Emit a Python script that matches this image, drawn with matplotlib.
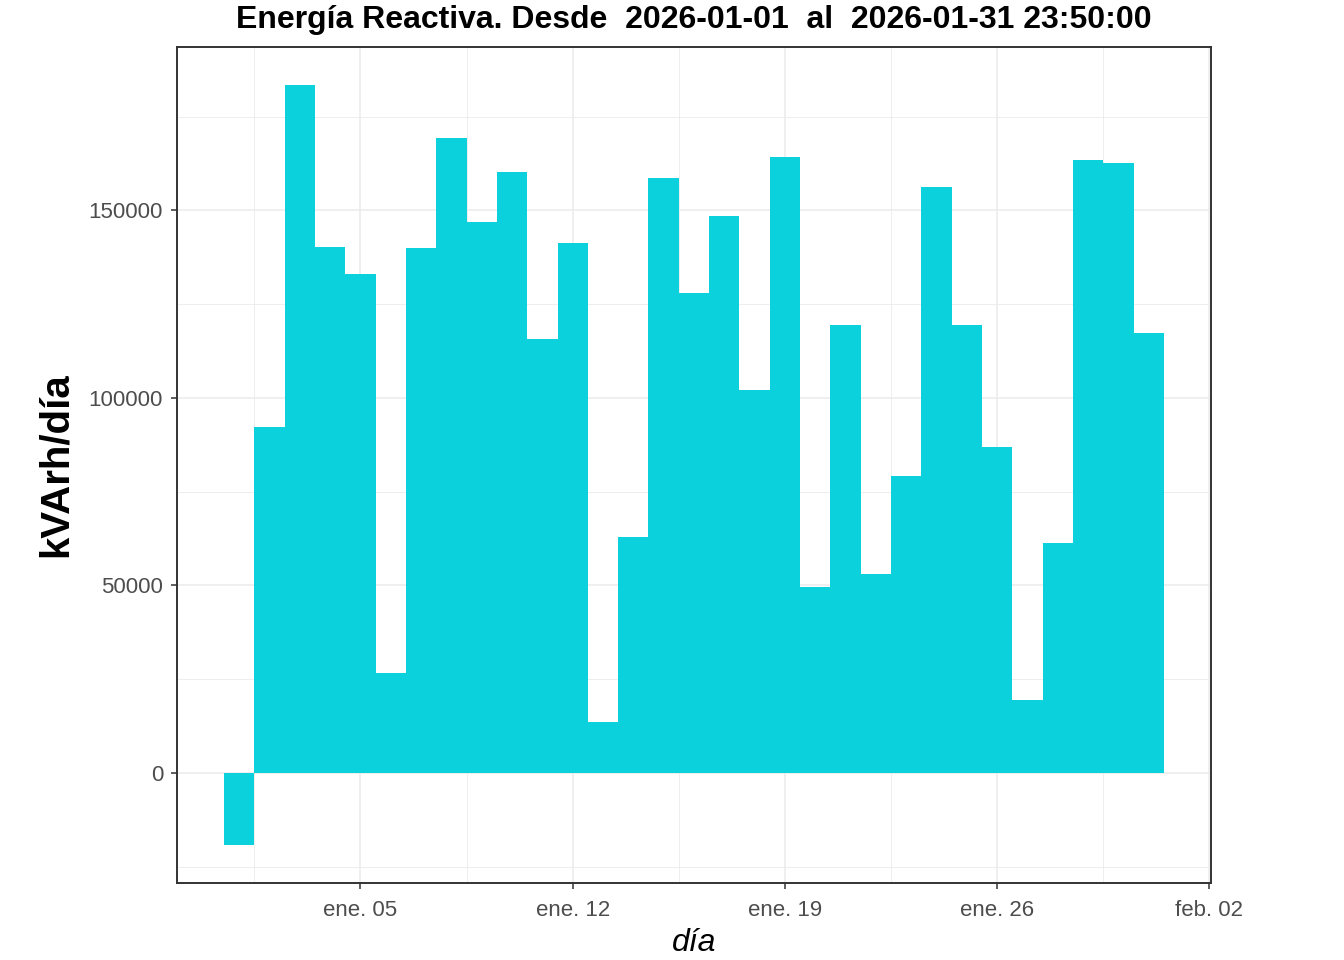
import datetime as dt

import numpy as np
import matplotlib
matplotlib.use("Agg")
import matplotlib.pyplot as plt
import matplotlib.dates as mdates
from matplotlib.ticker import FixedLocator

plt.rcParams['font.family'] = ['Liberation Sans', 'DejaVu Sans']

# energia reactiva diaria (kVArh/dia), enero 2026
dias = [dt.datetime(2026, 1, 1) + dt.timedelta(days=i) for i in range(31)]
kvarh = [-19200, 92200, 183400, 140200, 133000, 26600, 139900, 169200,
         146900, 160200, 115700, 141300, 13600, 62900, 158600, 127900,
         148500, 102100, 164200, 49600, 119400, 53000, 79200, 156200,
         119400, 86900, 19500, 61300, 163400, 162600, 117300]

marcas_x = [dt.datetime(2026, 1, 5), dt.datetime(2026, 1, 12),
            dt.datetime(2026, 1, 19), dt.datetime(2026, 1, 26),
            dt.datetime(2026, 2, 2)]
etiquetas_x = ['ene. 05', 'ene. 12', 'ene. 19', 'ene. 26', 'feb. 02']
marcas_y = [0, 50000, 100000, 150000]

fig = plt.figure(figsize=(13.44, 9.6), dpi=100)
ax = fig.add_axes([0.1317, 0.0802, 0.901 - 0.1317, 0.951 - 0.0802])

x = mdates.date2num(dias)
ax.bar(x, kvarh, width=1.0, color='#0BD1DC', linewidth=0, zorder=2)

# limites como ggplot (expansion del 5%)
x0, x1 = x[0] - 0.5, x[-1] + 0.5
ax.set_xlim(x0 - 0.05 * (x1 - x0), x1 + 0.05 * (x1 - x0))
y0, y1 = min(kvarh), max(kvarh)
ax.set_ylim(y0 - 0.05 * (y1 - y0), y1 + 0.05 * (y1 - y0))

mx = mdates.date2num(marcas_x)
ax.set_xticks(mx)
ax.set_xticklabels(etiquetas_x)
minx = list(mx - 3.5) + [mx[-1] + 3.5]
ax.xaxis.set_minor_locator(FixedLocator(minx))
ax.set_yticks(marcas_y)
ax.set_yticklabels([str(v) for v in marcas_y])
ax.yaxis.set_minor_locator(FixedLocator([-25000, 25000, 75000, 125000, 175000]))

ax.grid(True, which='major', color='#EBEBEB', linewidth=1.1, zorder=0)
ax.grid(True, which='minor', color='#EBEBEB', linewidth=0.6, zorder=0)
ax.set_axisbelow(True)

for s in ax.spines.values():
    s.set_color('#333333')
    s.set_linewidth(1.4)

ax.tick_params(which='major', length=4, width=1.1, color='#333333',
               labelsize=16, labelcolor='#4D4D4D', pad=6)
ax.tick_params(axis='x', pad=8)
ax.tick_params(which='minor', length=0)

ax.set_title('Energía Reactiva. Desde  2026-01-01  al  2026-01-31 23:50:00',
             fontsize=23, fontweight='bold', pad=14)
ax.set_xlabel('día', fontsize=23, fontstyle='italic', labelpad=5)
ax.set_ylabel('kVArh/día', fontsize=29, fontweight='bold', labelpad=10)

fig.savefig('out.png', dpi=100)
